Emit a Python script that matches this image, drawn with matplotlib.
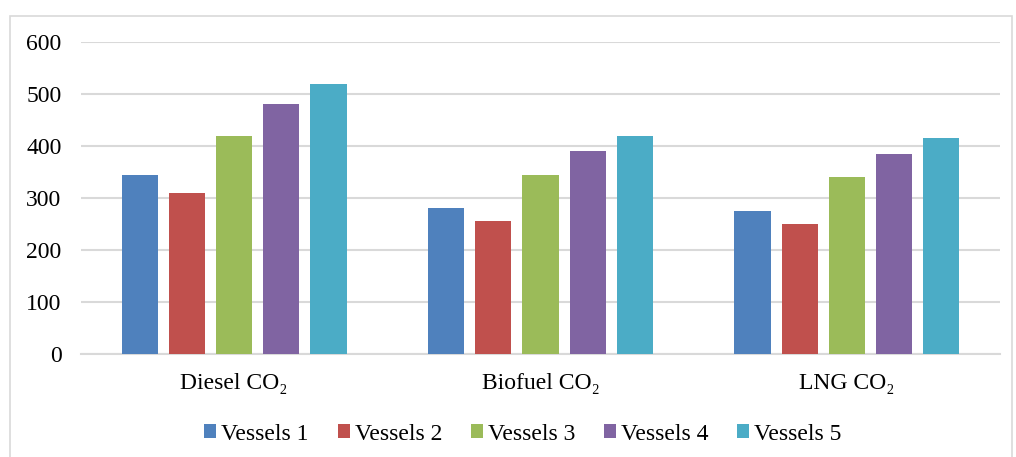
import matplotlib
matplotlib.use("Agg")
import matplotlib.pyplot as plt
from matplotlib.patches import Rectangle
import numpy as np

plt.rcParams['font.family'] = ['Liberation Serif', 'DejaVu Serif']

categories = ["Diesel CO₂", "Biofuel CO₂", "LNG CO₂"]
series_names = ["Vessels 1", "Vessels 2", "Vessels 3", "Vessels 4", "Vessels 5"]
vessels1 = [345, 280, 275]
vessels2 = [310, 255, 250]
vessels3 = [420, 345, 340]
vessels4 = [480, 390, 385]
vessels5 = [520, 420, 415]
yticks = [0, 100, 200, 300, 400, 500, 600]
colors = ["#4F81BD", "#C0504D", "#9BBB59", "#8064A2", "#4BACC6"]

W, H = 1016, 457
fig = plt.figure(figsize=(W / 100, H / 100), dpi=100)
fig.patches.append(Rectangle((10 / W, -0.01), 1002 / W, 1 - 16 / H + 0.01,
                             transform=fig.transFigure, fill=False,
                             edgecolor="#D9D9D9", linewidth=1.2))
ax = fig.add_axes([81 / W, 103 / H, 919 / W, 312 / H])

data = [vessels1, vessels2, vessels3, vessels4, vessels5]
x = np.arange(len(categories))
step = 0.154
width = 0.118
for i, (vals, name, c) in enumerate(zip(data, series_names, colors)):
    ax.bar(x + (i - 2) * step, vals, width, color=c, label=name, zorder=3)

ax.set_xlim(-0.5, len(categories) - 0.5)
ax.set_ylim(0, 600)
ax.set_yticks(yticks)
ax.set_xticks(x)
ax.set_xticklabels(categories)
ax.tick_params(axis='both', length=0, labelsize=17, colors="black")
ax.tick_params(axis='y', pad=14)
ax.tick_params(axis='x', pad=14)
ax.grid(axis='y', color="#D9D9D9", linewidth=1.5, zorder=0)
for s in ["top", "right", "left"]:
    ax.spines[s].set_visible(False)
ax.spines["bottom"].set_color("#D9D9D9")
ax.spines["bottom"].set_linewidth(1.5)

ax.legend(loc="center", bbox_to_anchor=((523 - 81) / 919, (434 - 354) / -312), ncol=5,
          frameon=False, fontsize=17, handlelength=0.5, handleheight=0.5,
          handletextpad=0.21, columnspacing=1.23, borderpad=0, borderaxespad=0)

fig.savefig("out.png", dpi=100)
